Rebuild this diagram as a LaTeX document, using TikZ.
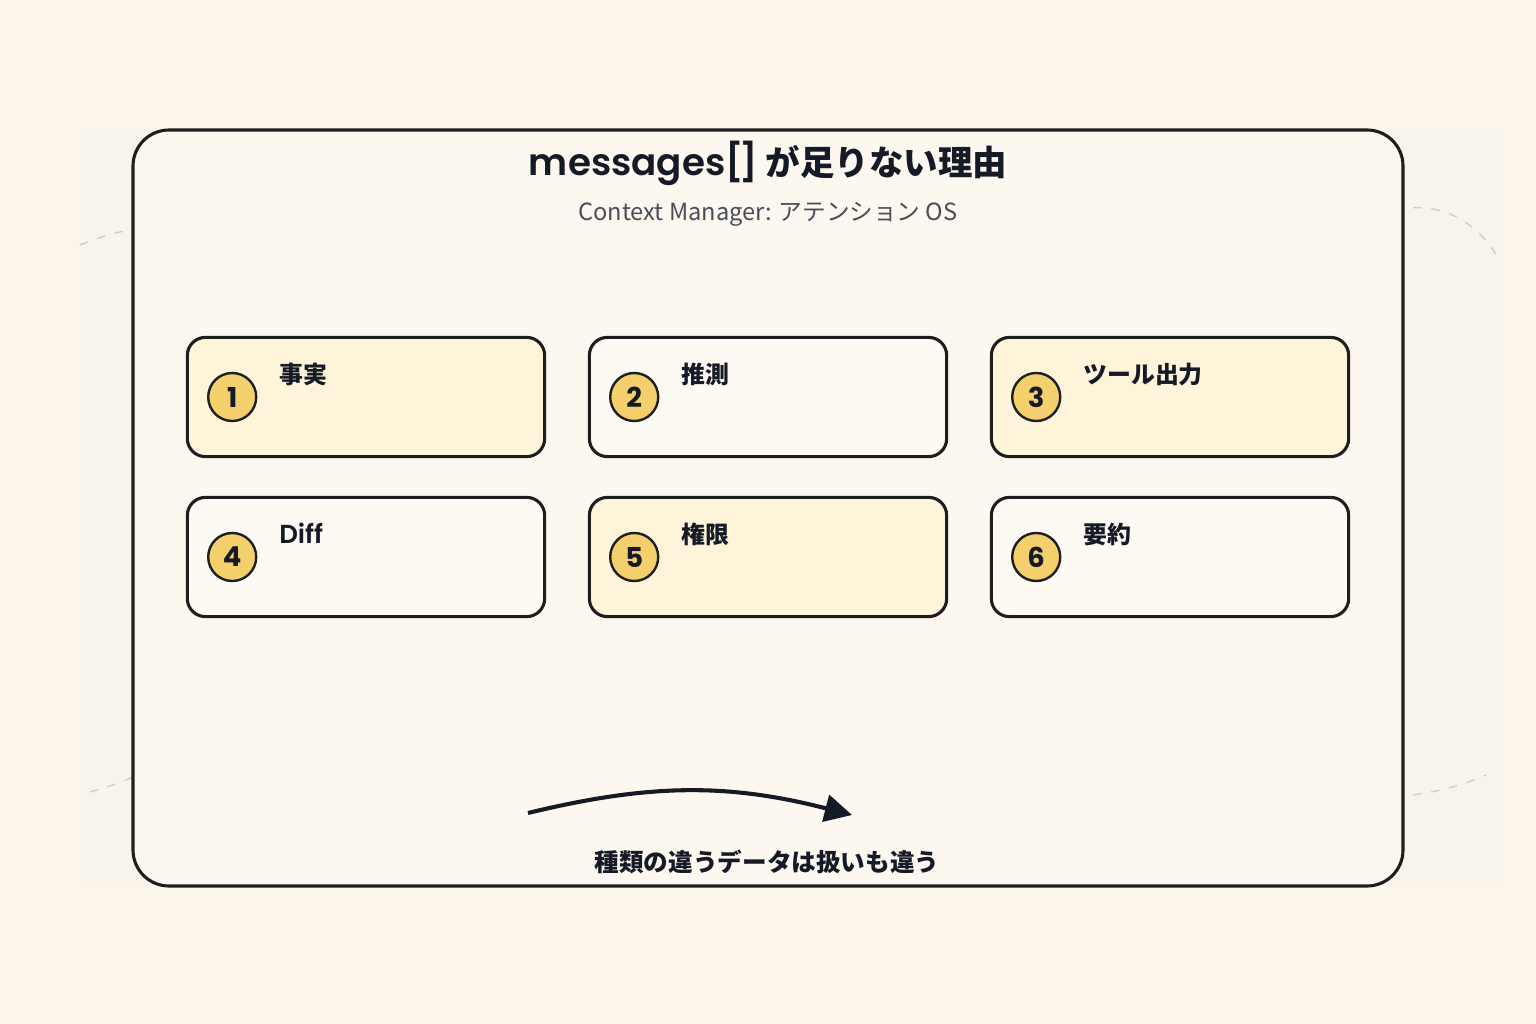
\documentclass[tikz,border=0pt]{standalone}
\usepackage{fontspec}
\setmainfont{Noto Sans CJK JP}
\newfontfamily\pop{Poppins}[BoldFont={Poppins SemiBold}]
\newfontfamily\numfont{Poppins}
\usepackage{tikz}
\usetikzlibrary{arrows.meta, positioning}
\definecolor{paper}{HTML}{FBF5EA}
\definecolor{panel}{HTML}{F9F4EB}
\definecolor{card}{HTML}{FCF8F0}
\definecolor{warm}{HTML}{FDF4DA}
\definecolor{pale}{HTML}{FDFAF3}
\definecolor{ink}{HTML}{151A26}
\definecolor{edge}{HTML}{1E1E1E}
\definecolor{badgefill}{HTML}{F4D06C}
\definecolor{muted}{HTML}{4A4D57}
\definecolor{trace}{HTML}{D3CEC4}
\tikzset{
	frame/.style={draw=edge, line width=2.2pt, rounded corners=0.9cm, fill=card},
	cell/.style={draw=edge, line width=2.2pt, rounded corners=0.45cm,
		minimum width=8.93cm, minimum height=2.98cm, inner sep=0pt},
	badge/.style={circle, draw=edge, line width=1.7pt, fill=badgefill,
		minimum size=1.2cm, inner sep=0pt, text=ink, font=\numfont\bfseries\fontsize{19.5}{19.5}\selectfont},
	lbl/.style={anchor=base west, inner sep=0pt, text=ink, font=\bfseries\fontsize{17}{17}\selectfont},
	flow/.style={-{Triangle[length=0.68cm, width=0.68cm]}, line width=2.9pt, ink},
	deco/.style={draw=trace, line width=1pt, dash pattern=on 6pt off 7pt},
}

\begin{document}
\begin{tikzpicture}[x=0.025cm, y=0.025cm]
		\fill[paper] (0,0) rectangle (1536,-1024);
		\useasboundingbox (0,0) rectangle (1536,-1024);
		\fill[panel] (80,-128) rectangle (1503,-887);

		% faint traces behind the frame
		\draw[deco] (80,-245) to[bend left=6] (140,-228);
		\draw[deco] (1395,-210) .. controls (1440,-200) and (1478,-222) .. (1498,-258);
		\draw[deco] (90,-792) to[bend right=4] (140,-774);
		\draw[deco] (1395,-797) .. controls (1430,-794) and (1462,-786) .. (1486,-775);

		\draw[frame] (133,-130) rectangle (1403,-886);

		\node[text=ink, font=\bfseries\fontsize{24.5}{24.5}\selectfont] (title) at (768,-163)
		{{\pop\fontsize{26.5}{26.5}\selectfont messages[\kern-0.12em]} が足りない理由};
		\node[text=muted, font=\fontsize{16.8}{16.8}\selectfont] (sub) at (768,-214)
		{Context Manager: アテンション OS};

		\node[cell, fill=warm] (b1) at (366,-397) {};
		\node[cell, fill=pale] (b2) at (768,-397) {};
		\node[cell, fill=warm] (b3) at (1170,-397) {};
		\node[cell, fill=pale] (b4) at (366,-557) {};
		\node[cell, fill=warm] (b5) at (768,-557) {};
		\node[cell, fill=pale] (b6) at (1170,-557) {};

		\node[badge, right=0.53cm of b1.west] (n1) {1};
		\node[badge, right=0.53cm of b2.west] (n2) {2};
		\node[badge, right=0.53cm of b3.west] (n3) {3};
		\node[badge, right=0.53cm of b4.west] (n4) {4};
		\node[badge, right=0.53cm of b5.west] (n5) {5};
		\node[badge, right=0.53cm of b6.west] (n6) {6};

		\node[lbl] (t1) at ([xshift=2.33cm, yshift=-1.18cm]b1.north west) {事実};
		\node[lbl] (t2) at ([xshift=2.33cm, yshift=-1.18cm]b2.north west) {推測};
		\node[lbl] (t3) at ([xshift=2.33cm, yshift=-1.18cm]b3.north west) {ツール出力};
		\node[lbl] (t4) at ([xshift=2.33cm, yshift=-1.18cm]b4.north west) {\pop\fontsize{18.5}{18.5}\selectfont Diff};
		\node[lbl] (t5) at ([xshift=2.33cm, yshift=-1.18cm]b5.north west) {権限};
		\node[lbl] (t6) at ([xshift=2.33cm, yshift=-1.18cm]b6.north west) {要約};

		\coordinate (a0) at (528,-813);
		\coordinate (a1) at (852,-815);
		\draw[flow] (a0) to[bend left=14] (a1);

		\node[text=ink, font=\bfseries\fontsize{17.5}{17.5}\selectfont] (foot) at (767,-862)
		{種類の違うデータは扱いも違う};
	\end{tikzpicture}
\end{document}
